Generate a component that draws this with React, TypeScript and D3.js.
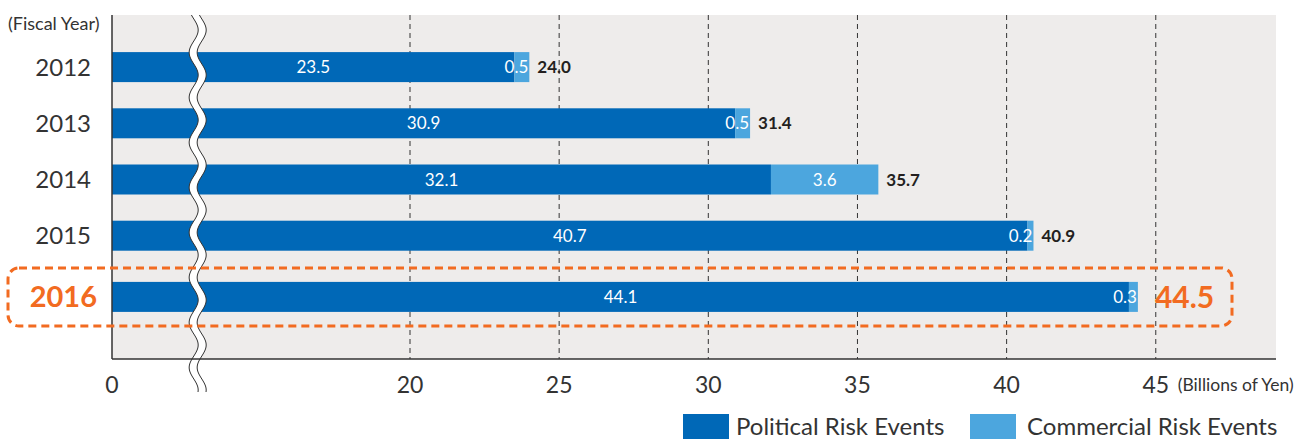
import React from "react";
import * as d3 from "d3";

const years = ["2012", "2013", "2014", "2015", "2016"];
const political = [23.5, 30.9, 32.1, 40.7, 44.1];
const commercial = [0.5, 0.5, 3.6, 0.2, 0.3];
const totals = [24.0, 31.4, 35.7, 40.9, 44.5];
const xTicks = [0, 20, 25, 30, 35, 40, 45];
const gridTicks = [20, 25, 30, 35, 40, 45];
const highlightYear = "2016";

const W = 1306, H = 439;
const left = 112, right = 1276, top = 15, bottom = 359;
const C_POL = "#0068b7", C_COM = "#4ca6de", C_BG = "#eeeceb", C_HL = "#f26b21", C_TXT = "#333333";
const FONT = "Lato, 'Open Sans', sans-serif";

export default function App() {
  const x = d3.scaleLinear().domain([0, 20, 49.03]).range([left, 410, right]);
  const y = d3.scaleBand().domain(years).range([39, 320]).paddingInner(0.46).paddingOuter(0.23);
  const bh = 30;
  const yc = (yr: string) => (y(yr) as number) + y.bandwidth() / 2 + (yr === highlightYear ? 5 : 0);

  const breakX = x(5.75);
  const amp = 4.5, period = 45, gap = 8;
  const wave = (x0: number, y0: number, y1: number) => {
    const pts: [number, number][] = [];
    for (let yy = y0; yy <= y1; yy += 1) pts.push([x0 + amp * Math.cos(((yy - 30) / period) * 2 * Math.PI), yy]);
    return pts;
  };
  const wTop = top, wBot = 392;
  const l1 = wave(breakX - gap / 2, wTop, wBot);
  const l2 = wave(breakX + gap / 2, wTop, wBot);
  const line = d3.line();
  const fillPath = line([...l1, ...l2.slice().reverse()]) + "Z";

  const hlY = yc(highlightYear);

  return (
    <svg width={W} height={H} style={{ position: "absolute", left: 0, top: 0 }} fontFamily={FONT}>
      <rect x={left} y={top} width={right - left} height={bottom - top} fill={C_BG} />
      {gridTicks.map((t) => (
        <line key={t} x1={x(t)} x2={x(t)} y1={top} y2={bottom} stroke="#333" strokeWidth={1} strokeDasharray="5,4" />
      ))}
      {years.map((yr, i) => {
        const cy = yc(yr);
        const x0 = x(0), x1 = x(political[i]), x2 = x(political[i] + commercial[i]);
        const comW = x2 - x1;
        const hl = yr === highlightYear;
        return (
          <g key={yr}>
            <rect x={x0} y={cy - bh / 2} width={x1 - x0} height={bh} fill={C_POL} />
            <rect x={x1} y={cy - bh / 2} width={comW} height={bh} fill={C_COM} />
            <text x={(x0 + x1) / 2} y={cy} dy="0.36em" textAnchor="middle" fill="#fff" fontSize={17}>
              {political[i].toFixed(1)}
            </text>
            <text x={comW > 50 ? (x1 + x2) / 2 : x2 - 1} y={cy} dy="0.36em" textAnchor={comW > 50 ? "middle" : "end"} fill="#fff" fontSize={17}>
              {commercial[i].toFixed(1)}
            </text>
            <text x={x2 + (hl ? 17 : 8)} y={cy} dy="0.36em" fill={hl ? C_HL : "#231f20"} fontSize={hl ? 30 : 17} fontWeight="bold">
              {totals[i].toFixed(1)}
            </text>
            <text x={hl ? 97 : 91} y={cy} dy="0.36em" textAnchor="end" fill={hl ? C_HL : C_TXT} fontSize={hl ? 29 : 24} fontWeight={hl ? "bold" : "normal"}>
              {yr}
            </text>
          </g>
        );
      })}
      <path d={fillPath} fill="#fff" />
      <path d={line(l1) as string} fill="none" stroke="#333" strokeWidth={1} />
      <path d={line(l2) as string} fill="none" stroke="#333" strokeWidth={1} />
      <line x1={left} x2={left} y1={top} y2={bottom} stroke="#333" strokeWidth={1.5} />
      <line x1={left} x2={right} y1={bottom} y2={bottom} stroke="#333" strokeWidth={1.5} />
      <rect x={8} y={hlY - 29} width={1224} height={58} rx={11} ry={11} fill="none" stroke={C_HL} strokeWidth={3} strokeDasharray="8,5" />
      <text x={8} y={24} dy="0.36em" fill={C_TXT} fontSize={18}>(Fiscal Year)</text>
      {xTicks.map((t) => (
        <text key={t} x={x(t)} y={385} dy="0.36em" textAnchor="middle" fill={C_TXT} fontSize={23}>{t}</text>
      ))}
      <text x={x(45) + 22} y={385} dy="0.36em" fill={C_TXT} fontSize={17.5}>(Billions of Yen)</text>
      <rect x={683} y={414} width={46} height={25} fill={C_POL} />
      <text x={736} y={435} fill={C_TXT} fontSize={24}>Political Risk Events</text>
      <rect x={970} y={414} width={46} height={25} fill={C_COM} />
      <text x={1027} y={435} fill={C_TXT} fontSize={24}>Commercial Risk Events</text>
    </svg>
  );
}
